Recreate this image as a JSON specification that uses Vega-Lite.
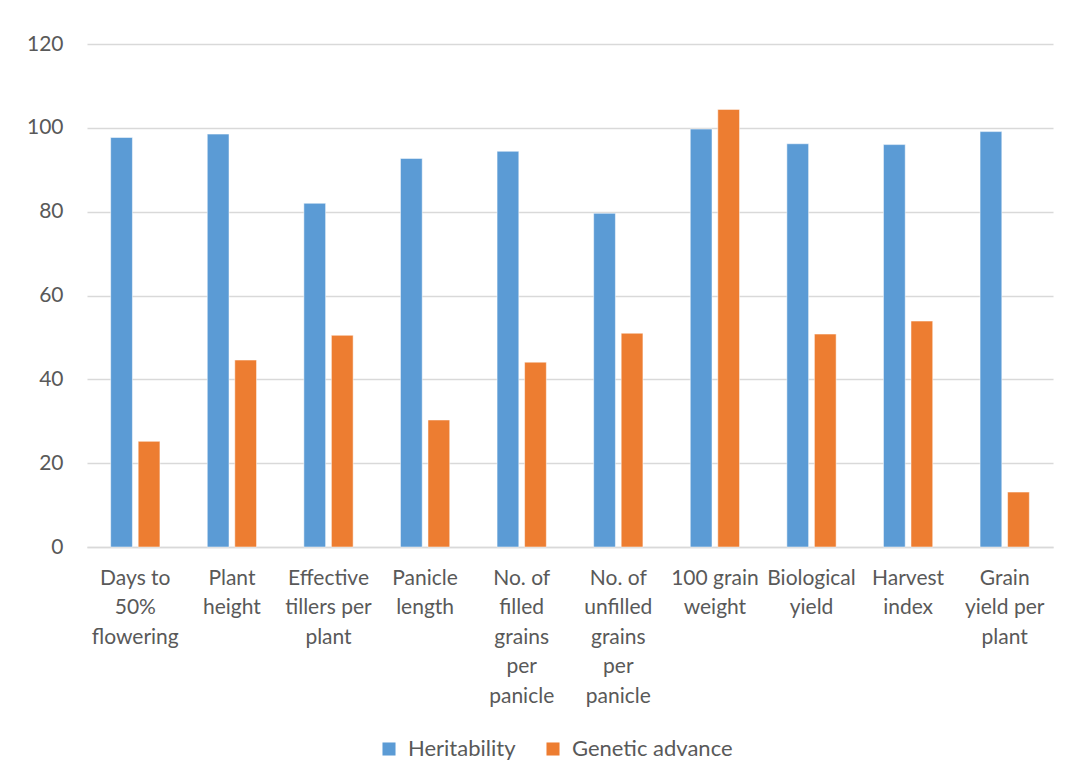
{
  "$schema": "https://vega.github.io/schema/vega-lite/v6.json",
  "width": 966,
  "height": 503,
  "autosize": {"type": "none"},
  "padding": {"left": 87, "top": 44, "right": 19, "bottom": 235},
  "background": "white",
  "config": {
    "view": {"stroke": null},
    "font": "Lato",
    "axis": {"labelFont": "Lato", "labelColor": "#595959", "labelFontSize": 21}
  },
  "data": {
    "values": [
      {"trait": "Days to 50% flowering", "series": "Heritability", "value": 97.7},
      {"trait": "Days to 50% flowering", "series": "Genetic advance", "value": 25.2},
      {"trait": "Plant height", "series": "Heritability", "value": 98.5},
      {"trait": "Plant height", "series": "Genetic advance", "value": 44.6},
      {"trait": "Effective tillers per plant", "series": "Heritability", "value": 82.0},
      {"trait": "Effective tillers per plant", "series": "Genetic advance", "value": 50.5},
      {"trait": "Panicle length", "series": "Heritability", "value": 92.7},
      {"trait": "Panicle length", "series": "Genetic advance", "value": 30.3},
      {"trait": "No. of filled grains per panicle", "series": "Heritability", "value": 94.4},
      {"trait": "No. of filled grains per panicle", "series": "Genetic advance", "value": 44.1},
      {"trait": "No. of unfilled grains per panicle", "series": "Heritability", "value": 79.6},
      {"trait": "No. of unfilled grains per panicle", "series": "Genetic advance", "value": 51.0},
      {"trait": "100 grain weight", "series": "Heritability", "value": 99.7},
      {"trait": "100 grain weight", "series": "Genetic advance", "value": 104.4},
      {"trait": "Biological yield", "series": "Heritability", "value": 96.2},
      {"trait": "Biological yield", "series": "Genetic advance", "value": 50.8},
      {"trait": "Harvest index", "series": "Heritability", "value": 96.0},
      {"trait": "Harvest index", "series": "Genetic advance", "value": 53.9},
      {"trait": "Grain yield per plant", "series": "Heritability", "value": 99.1},
      {"trait": "Grain yield per plant", "series": "Genetic advance", "value": 13.1}
    ]
  },
  "mark": {"type": "bar", "stroke": "white", "strokeWidth": 0.5},
  "encoding": {
    "x": {
      "field": "trait",
      "type": "nominal",
      "sort": null,
      "scale": {"paddingInner": 0.49, "paddingOuter": 0.245},
      "axis": {
        "title": null,
        "labelAngle": 0,
        "ticks": false,
        "domain": true,
        "domainColor": "#d9d9d9",
        "domainWidth": 1.5,
        "labelPadding": 20,
        "labelLineHeight": 29.5,
        "labelAlign": "center",
        "labelBaseline": "top",
        "labelLimit": 0,
        "labelExpr": "{'Days to 50% flowering': ['Days to', '50%', 'flowering'], 'Plant height': ['Plant', 'height'], 'Effective tillers per plant': ['Effective', 'tillers per', 'plant'], 'Panicle length': ['Panicle', 'length'], 'No. of filled grains per panicle': ['No. of', 'filled', 'grains', 'per', 'panicle'], 'No. of unfilled grains per panicle': ['No. of', 'unfilled', 'grains', 'per', 'panicle'], '100 grain weight': ['100 grain', 'weight'], 'Biological yield': ['Biological', 'yield'], 'Harvest index': ['Harvest', 'index'], 'Grain yield per plant': ['Grain', 'yield per', 'plant']}[datum.label]"
      }
    },
    "xOffset": {
      "field": "series",
      "type": "nominal",
      "sort": ["Heritability", "Genetic advance"],
      "scale": {"paddingInner": 0.21, "paddingOuter": 0}
    },
    "y": {
      "field": "value",
      "type": "quantitative",
      "scale": {"domain": [0, 120], "nice": false},
      "axis": {
        "title": null,
        "values": [0, 20, 40, 60, 80, 100, 120],
        "grid": true,
        "gridColor": "#d9d9d9",
        "gridWidth": 1.5,
        "domain": false,
        "ticks": false,
        "labelPadding": 24
      }
    },
    "color": {
      "field": "series",
      "type": "nominal",
      "sort": ["Heritability", "Genetic advance"],
      "scale": {"domain": ["Heritability", "Genetic advance"], "range": ["#5B9BD5", "#ED7D31"]},
      "legend": {
        "title": null,
        "orient": "none",
        "direction": "horizontal",
        "legendX": 291,
        "legendY": 694,
        "symbolType": "square",
        "symbolSize": 170,
        "symbolStrokeWidth": 0,
        "labelFont": "Lato",
        "labelFontSize": 22,
        "labelColor": "#595959",
        "labelOffset": 8,
        "labelLimit": 0,
        "columnPadding": 26
      }
    }
  }
}
